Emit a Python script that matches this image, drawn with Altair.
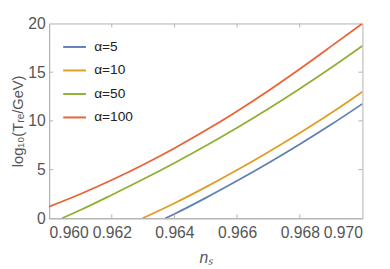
import altair as alt
import pandas as pd

# alpha = 100
ns_a100 = [0.960, 0.961, 0.962, 0.963, 0.964, 0.965, 0.966, 0.967, 0.968, 0.969, 0.970]
T_a100 = [1.2, 2.5, 3.93, 5.5, 7.2, 9.03, 11.0, 13.1, 15.33, 17.65, 20.0]
# alpha = 50
ns_a50 = [0.96041, 0.961, 0.962, 0.963, 0.964, 0.965, 0.966, 0.967, 0.968, 0.969, 0.970]
T_a50 = [0.0, 0.85, 2.4, 4.0, 5.68, 7.45, 9.3, 11.25, 13.3, 15.45, 17.7]
# alpha = 10
ns_a10 = [0.96298, 0.964, 0.965, 0.966, 0.967, 0.968, 0.969, 0.970]
T_a10 = [0.0, 1.55, 3.2, 4.95, 6.8, 8.75, 10.8, 13.0]
# alpha = 5
ns_a5 = [0.96371, 0.964, 0.965, 0.966, 0.967, 0.968, 0.969, 0.970]
T_a5 = [0.0, 0.45, 2.1, 3.85, 5.68, 7.6, 9.62, 11.75]

labels = ["α=5", "α=10", "α=50", "α=100"]
colors = ["#5E81B5", "#E19C24", "#8FB032", "#EB6235"]

x_ticks = [0.960, 0.962, 0.964, 0.966, 0.968, 0.970]
y_ticks = [0, 5, 10, 15, 20]
x_inner = [0.962, 0.964, 0.966, 0.968]
y_inner = [5, 10, 15]

rows = []
for lab, xs, ys in zip(labels, [ns_a5, ns_a10, ns_a50, ns_a100], [T_a5, T_a10, T_a50, T_a100]):
    for i, (a, b) in enumerate(zip(xs, ys)):
        rows.append({"series": lab, "ns": a, "T": b, "order": i})
df = pd.DataFrame(rows)

W, H = 320, 199
FRAME = "#b0b0b0"
LAB = "#555555"
FONT = "Liberation Sans"

xscale = alt.Scale(domain=[0.960, 0.970], nice=False, zero=False)
yscale = alt.Scale(domain=[0, 20], nice=False)

lines = alt.Chart(df).mark_line(strokeWidth=1.8, interpolate="monotone", clip=True).encode(
    x=alt.X("ns:Q", scale=xscale,
            axis=alt.Axis(values=x_ticks, format=".3f", title="nₛ", ticks=False,
                          titleFontStyle="italic", titlePadding=9, labelPadding=7)),
    y=alt.Y("T:Q", scale=yscale,
            axis=alt.Axis(values=y_ticks, title="log₁₀(Tᵣₑ/GeV)", ticks=False, titlePadding=2,
                          titleFontSize=15, labelPadding=4)),
    color=alt.Color("series:N", scale=alt.Scale(domain=labels, range=colors),
                    legend=alt.Legend(title=None, orient="none", legendX=13, legendY=11,
                                      symbolType="stroke", symbolSize=540, symbolStrokeWidth=2,
                                      labelFontSize=14, labelFont=FONT, labelColor="#222222",
                                      rowPadding=4, labelOffset=7)),
    order="order:Q",
)

xt = pd.DataFrame({"v": x_inner})
yt = pd.DataFrame({"v": y_inner})
tick_col = FRAME
bot = alt.Chart(xt).mark_rule(color=tick_col).encode(x="v:Q", y=alt.value(H), y2=alt.value(H - 4))
top = alt.Chart(xt).mark_rule(color=tick_col).encode(x="v:Q", y=alt.value(0), y2=alt.value(4))
left = alt.Chart(yt).mark_rule(color=tick_col).encode(y="v:Q", x=alt.value(0), x2=alt.value(4))
right = alt.Chart(yt).mark_rule(color=tick_col).encode(y="v:Q", x=alt.value(W), x2=alt.value(W - 4))

chart = alt.layer(lines, bot, top, left, right).properties(
    width=W, height=H,
    autosize=alt.AutoSizeParams(type="none"),
    padding={"left": 42, "top": 13, "right": 20, "bottom": 50},
).configure_view(stroke=FRAME, strokeWidth=1).configure_axis(
    domainColor=FRAME, labelColor=LAB, titleColor=LAB, labelFont=FONT, titleFont=FONT,
    labelFontSize=16, titleFontSize=16, titleFontWeight="normal", grid=False,
)

chart.save("out.html", embed_options={"renderer": "svg", "actions": False})
